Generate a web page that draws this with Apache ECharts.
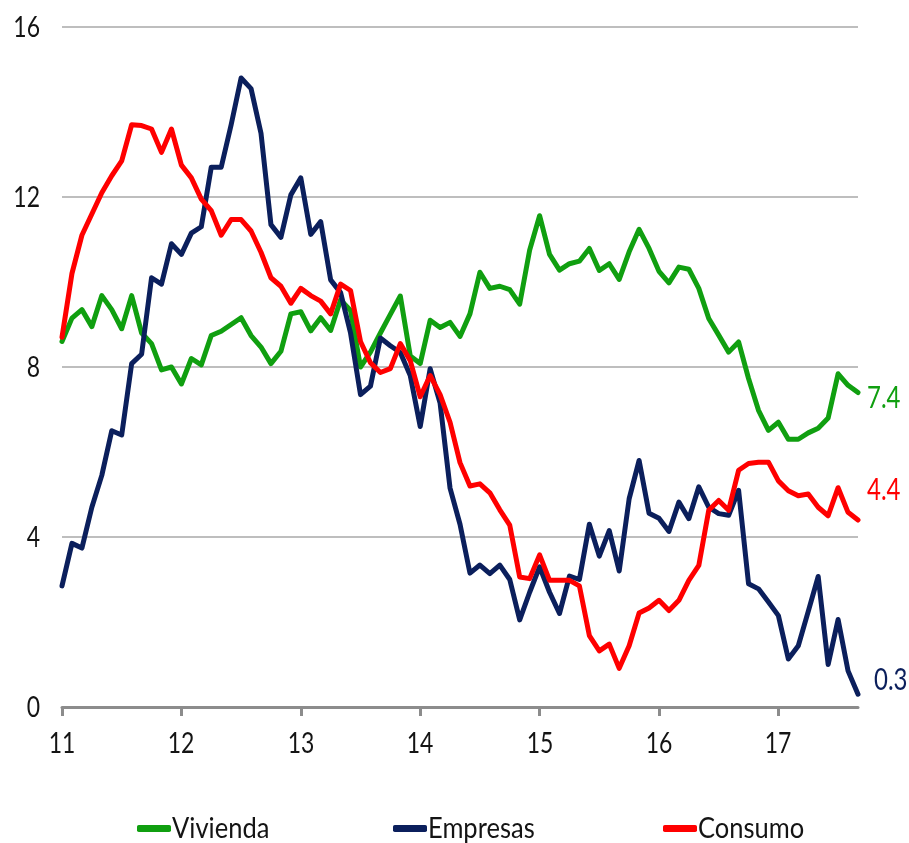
<!DOCTYPE html>
<html>
<head>
<meta charset="utf-8">
<script src="https://cdn.jsdelivr.net/npm/echarts@6/dist/echarts.min.js"></script>
<style>
  html, body { margin: 0; padding: 0; background: #ffffff; }
  #chart { width: 909px; height: 843px; }
</style>
</head>
<body>
<div id="chart"></div>
<script>
// Monthly series, January 2011 onwards (x axis: two-digit year)
const firstYear = 11;
const yearTicks = [11, 12, 13, 14, 15, 16, 17];
const valueTicks = [0, 4, 8, 12, 16];

const vivienda = [
  8.6, 9.15, 9.35, 8.95, 9.68, 9.35, 8.9, 9.68, 8.8, 8.55,
  7.93, 8.0, 7.6, 8.2, 8.05, 8.74, 8.84, 9.0, 9.16, 8.74,
  8.47, 8.08, 8.37, 9.25, 9.3, 8.85, 9.16, 8.86, 9.58, 9.33,
  8.0, 8.35, 8.8, 9.24, 9.67, 8.26, 8.08, 9.1, 8.93, 9.05,
  8.72, 9.25, 10.23, 9.85, 9.9, 9.82, 9.48, 10.75, 11.56, 10.65,
  10.28, 10.43, 10.49, 10.79, 10.27, 10.43, 10.06, 10.71, 11.24, 10.79,
  10.25, 9.98, 10.35, 10.3, 9.85, 9.14, 8.75, 8.35, 8.59, 7.73,
  6.98, 6.51, 6.7, 6.3, 6.3, 6.45, 6.56, 6.8, 7.84, 7.57,
  7.4
];

const empresas = [
  2.85, 3.85, 3.74, 4.7, 5.45, 6.5, 6.4, 8.08, 8.3, 10.1,
  9.95, 10.9, 10.65, 11.15, 11.3, 12.7, 12.7, 13.7, 14.8, 14.55,
  13.5, 11.35, 11.05, 12.05, 12.45, 11.12, 11.42, 10.05, 9.75, 8.8,
  7.35, 7.55, 8.68, 8.5, 8.34, 7.8, 6.6, 7.96, 7.15, 5.15,
  4.3, 3.15, 3.34, 3.14, 3.34, 3.0, 2.05, 2.7, 3.3, 2.7,
  2.2, 3.08, 3.0, 4.3, 3.55, 4.15, 3.2, 4.9, 5.8, 4.56,
  4.44, 4.13, 4.82, 4.43, 5.18, 4.7, 4.55, 4.51, 5.1, 2.9,
  2.78, 2.47, 2.15, 1.13, 1.44, 2.25, 3.07, 1.0, 2.06, 0.85,
  0.3
];

const consumo = [
  8.7, 10.2, 11.1, 11.6, 12.1, 12.5, 12.85, 13.7, 13.68, 13.6,
  13.05, 13.6, 12.75, 12.45, 11.95, 11.68, 11.1, 11.47, 11.47, 11.2,
  10.7, 10.1, 9.9, 9.5, 9.85, 9.68, 9.55, 9.25, 9.95, 9.8,
  8.6, 8.1, 7.87, 7.96, 8.55, 8.15, 7.3, 7.8, 7.35, 6.7,
  5.75, 5.2, 5.25, 5.04, 4.64, 4.28, 3.06, 3.02, 3.58, 2.98,
  2.98, 2.98, 2.85, 1.68, 1.32, 1.48, 0.91, 1.44, 2.21, 2.33,
  2.51, 2.27, 2.51, 2.98, 3.33, 4.63, 4.86, 4.63, 5.57, 5.73,
  5.76, 5.76, 5.32, 5.09, 4.97, 5.01, 4.7, 4.5, 5.16, 4.58,
  4.4
];

const seriesNames = ['Vivienda', 'Empresas', 'Consumo'];
const seriesValues = [vivienda, empresas, consumo];
const seriesColors = ['#109f10', '#0b1f5c', '#ff0000'];
// placement of each end-of-line value label, relative to the last point
const endLabelOffsets = [[9, 5], [16, -14], [9, -30]];
const legendLefts = [137, 393, 663];
const legendIconWidth = 34;

// narrow, tall lettering: a regular face squeezed horizontally
const fontStack = "Lato, 'Open Sans', sans-serif";
const tickFont = { size: 28, squeeze: 0.82 };
const valueFont = { size: 30, squeeze: 0.8 };
const legendFont = { size: 29, squeeze: 0.88 };
const textColor = '#141414';

function toPoints(values) {
  return values.map((v, i) => [firstYear + i / 12, v]);
}

function textMark(text, x, y, align, color, f) {
  return {
    type: 'text',
    x: Math.round(x),
    y: Math.round(y),
    scaleX: f.squeeze,
    silent: true,
    z: 100,
    style: {
      text: text,
      font: f.size + 'px ' + fontStack,
      fill: color,
      align: align,
      verticalAlign: 'middle'
    }
  };
}

const chart = echarts.init(document.getElementById('chart'), null, { renderer: 'canvas' });

const series = seriesNames.map((name, k) => ({
  name: name,
  type: 'line',
  data: toPoints(seriesValues[k]),
  showSymbol: false,
  symbol: 'none',
  smooth: false,
  lineStyle: { color: seriesColors[k], width: 5, join: 'round', cap: 'round' },
  itemStyle: { color: seriesColors[k] },
  emphasis: { disabled: true },
  z: 2 + k
}));

const legends = seriesNames.map((name, k) => ({
  data: [{ name: name, icon: 'roundRect', itemStyle: { color: seriesColors[k] } }],
  left: legendLefts[k],
  top: 825,
  padding: 0,
  itemWidth: legendIconWidth,
  itemHeight: 7,
  itemGap: 0,
  formatter: () => '',
  textStyle: { fontSize: 1, padding: 0 },
  selectedMode: false
}));

chart.setOption({
  animation: false,
  backgroundColor: '#ffffff',
  grid: { left: 62, right: 51, top: 27, bottom: 136, containLabel: false },
  legend: legends,
  xAxis: {
    type: 'value',
    min: firstYear,
    max: firstYear + (vivienda.length - 1) / 12,
    interval: 1,
    axisLine: { show: true, lineStyle: { color: '#8c8c8c', width: 3 } },
    axisTick: {
      show: true, inside: false, length: 9,
      customValues: yearTicks,
      lineStyle: { color: '#8c8c8c', width: 3 }
    },
    axisLabel: { show: false },
    splitLine: { show: false }
  },
  yAxis: {
    type: 'value',
    min: valueTicks[0],
    max: valueTicks[valueTicks.length - 1],
    interval: 4,
    axisLine: { show: false },
    axisTick: { show: false },
    axisLabel: { show: false },
    splitLine: { show: true, lineStyle: { color: '#a8a8a8', width: 1.5 } }
  },
  series: series
});

// Tick labels, end-of-line values and legend names, placed through the axes' own scales
const marks = [];
valueTicks.forEach(v => {
  const p = chart.convertToPixel({ gridIndex: 0 }, [firstYear, v]);
  marks.push(textMark(String(v), p[0] - 22, p[1] + 1, 'right', textColor, tickFont));
});
yearTicks.forEach(t => {
  const p = chart.convertToPixel({ gridIndex: 0 }, [t, 0]);
  marks.push(textMark(String(t), p[0], p[1] + 37, 'center', textColor, tickFont));
});
seriesValues.forEach((values, k) => {
  const last = values.length - 1;
  const p = chart.convertToPixel({ gridIndex: 0 }, [firstYear + last / 12, values[last]]);
  marks.push(textMark(values[last].toFixed(1), p[0] + endLabelOffsets[k][0],
    p[1] + endLabelOffsets[k][1], 'left', seriesColors[k], valueFont));
});
seriesNames.forEach((name, k) => {
  marks.push(textMark(name, legendLefts[k] + legendIconWidth + 1, 829, 'left', textColor, legendFont));
});

chart.setOption({ graphic: marks });
</script>
</body>
</html>
